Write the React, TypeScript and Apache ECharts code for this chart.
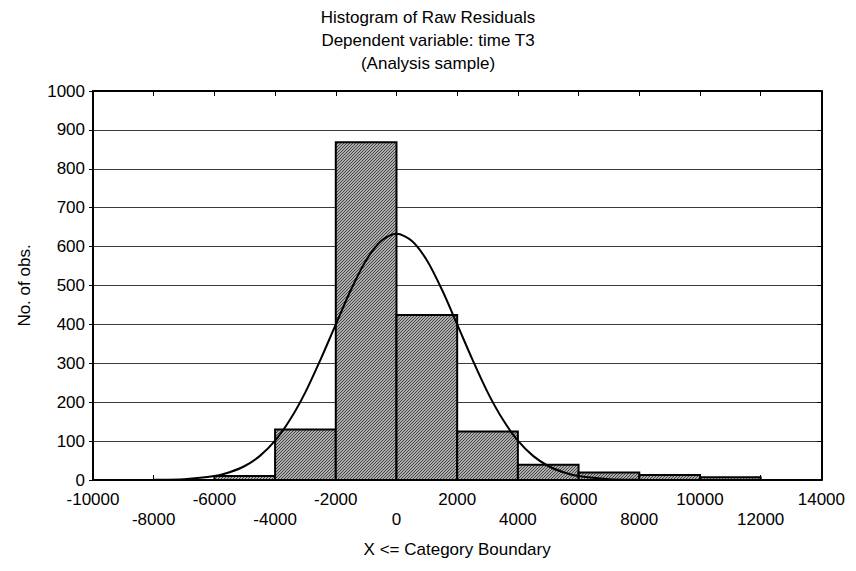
import React, { useEffect, useRef } from "react";
import * as echarts from "echarts";

// Histogram bins (lower boundaries, width 2000) and counts
const binStarts = [-8000, -6000, -4000, -2000, 0, 2000, 4000, 6000, 8000, 10000];
const binWidth = 2000;
const counts = [0, 10, 130, 868, 424, 125, 39, 19, 13, 7];

// Fitted normal curve
const curveX = [-10000, -9000, -8000, -7000, -6000, -5500, -5000, -4500, -4000, -3500, -3000, -2500, -2000, -1500, -1000, -500, 0, 500, 1000, 1500, 2000, 2500, 3000, 3500, 4000, 4500, 5000, 5500, 6000, 7000, 8000, 9000, 10000, 12000, 14000];
const curveY = [0, 0, 0.4, 2, 10, 20, 36, 62, 101, 156, 226, 310, 400, 489, 565, 615, 633, 615, 565, 489, 400, 310, 226, 156, 101, 62, 36, 20, 10, 2, 0.4, 0, 0, 0, 0];

const titleLines = ["Histogram of Raw Residuals", "Dependent variable: time T3", "(Analysis sample)"];
const xName = "X <= Category Boundary";
const yName = "No. of obs.";

const FONT = "'Liberation Sans', Arial, Helvetica, sans-serif";

function makeHatch(): any {
  const c = document.createElement("canvas");
  c.width = 3;
  c.height = 3;
  const ctx = c.getContext("2d");
  if (!ctx) return "#888888";
  ctx.fillStyle = "#acacac";
  ctx.fillRect(0, 0, 3, 3);
  ctx.fillStyle = "#474747";
  for (let i = 0; i < 3; i++) {
    ctx.fillRect(2 - i, i, 1, 1);
  }
  return { image: c, repeat: "repeat" };
}

export default function App() {
  const ref = useRef<HTMLDivElement>(null);
  useEffect(() => {
    if (!ref.current) return;
    const chart = echarts.init(ref.current, null, { renderer: "svg" });
    const hatch = makeHatch();
    const barData = binStarts.map((s, i) => [s, s + binWidth, counts[i]]);
    const curveData = curveX.map((x, i) => [x, curveY[i]]);
    const lineAxis = { show: true, onZero: false, lineStyle: { color: "#000", width: 2 } };
    chart.setOption({
      animation: false,
      backgroundColor: "#fff",
      textStyle: { fontFamily: FONT },
      title: {
        text: titleLines.join("\n"),
        left: "center",
        top: -2,
        padding: 0,
        textStyle: { fontSize: 17, fontWeight: "normal", color: "#000", lineHeight: 23, fontFamily: FONT },
      },
      grid: { left: 78, right: 19, top: 83, bottom: 73 },
      xAxis: [
        {
          type: "value",
          min: -10000,
          max: 14000,
          interval: 2000,
          position: "bottom",
          axisLine: lineAxis,
          axisTick: { show: true, inside: true, length: 5, lineStyle: { color: "#000" } },
          axisLabel: {
            color: "#000",
            fontSize: 17,
            fontFamily: FONT,
            lineHeight: 20,
            margin: 9,
            formatter: (v: number) => {
              const idx = Math.round((v + 10000) / 2000);
              return idx % 2 === 1 ? "\n" + v : String(v);
            },
          },
          splitLine: { show: false },
          name: xName,
          nameLocation: "middle",
          nameGap: 61,
          nameTextStyle: { color: "#000", fontSize: 17, fontFamily: FONT },
        },
        {
          type: "value",
          min: -10000,
          max: 14000,
          interval: 2000,
          position: "top",
          axisLine: lineAxis,
          axisTick: { show: true, inside: true, length: 5, lineStyle: { color: "#000" } },
          axisLabel: { show: false },
          splitLine: { show: false },
        },
      ],
      yAxis: [
        {
          type: "value",
          min: 0,
          max: 1000,
          interval: 100,
          position: "left",
          axisLine: lineAxis,
          axisTick: { show: true, inside: false, length: 4, lineStyle: { color: "#000" } },
          axisLabel: { color: "#000", fontSize: 17, fontFamily: FONT, margin: 8, formatter: (v: number) => String(v) },
          splitLine: { show: true, lineStyle: { color: "#3c3c3c", width: 1 } },
          name: yName,
          nameLocation: "middle",
          nameGap: 60,
          nameRotate: 90,
          nameTextStyle: { color: "#000", fontSize: 17, fontFamily: FONT },
        },
        {
          type: "value",
          min: 0,
          max: 1000,
          interval: 100,
          position: "right",
          axisLine: lineAxis,
          axisTick: { show: true, inside: true, length: 4, lineStyle: { color: "#000" } },
          axisLabel: { show: false },
          splitLine: { show: false },
        },
      ],
      series: [
        {
          type: "custom",
          xAxisIndex: 0,
          yAxisIndex: 0,
          data: barData,
          z: 2,
          renderItem: (params: any, api: any) => {
            const p0 = api.coord([api.value(0), 0]);
            const p1 = api.coord([api.value(1), api.value(2)]);
            return {
              type: "rect",
              shape: { x: p0[0], y: p1[1], width: p1[0] - p0[0], height: p0[1] - p1[1] },
              style: { fill: hatch, stroke: "#000", lineWidth: 2 },
            };
          },
        },
        {
          type: "line",
          xAxisIndex: 0,
          yAxisIndex: 0,
          data: curveData,
          smooth: 0.3,
          showSymbol: false,
          symbol: "none",
          z: 3,
          lineStyle: { color: "#000", width: 2 },
        },
      ],
    });
    return () => chart.dispose();
  }, []);
  return <div ref={ref} style={{ width: 840, height: 555 }} />;
}
